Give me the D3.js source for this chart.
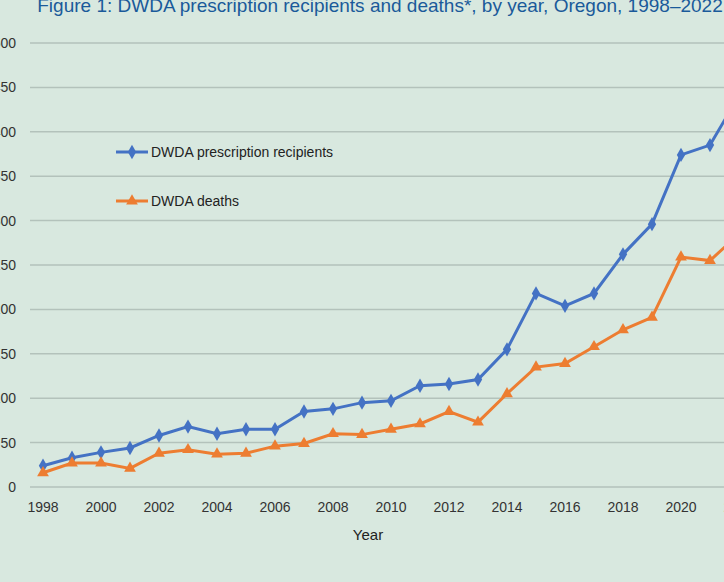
<!DOCTYPE html>
<html><head><meta charset="utf-8">
<script src="https://cdn.jsdelivr.net/npm/d3@7"></script>
<style>body{margin:0;background:#d8e8df;overflow:hidden}svg{display:block;font-family:"Liberation Sans Narrow","Liberation Sans",Arial,sans-serif}</style>
</head><body><div id="body"></div>
<script>
const years = d3.range(1998, 2023);
const recipients = [24,33,39,44,58,68,60,65,65,85,88,95,97,114,116,121,155,218,204,218,262,296,374,385,441];
const deaths = [16,27,27,21,38,42,37,38,46,49,60,59,65,71,85,73,105,135,139,158,177,191,259,255,285];
const yTicks = [0,50,100,150,200,250,300,350,400,450,500];
const xTicks = d3.range(1998, 2023, 2);

const svg = d3.select("#body").append("svg").attr("width",724).attr("height",582);
svg.append("rect").attr("width",724).attr("height",582).attr("fill","#d8e8df");

const x = d3.scaleLinear().domain([1998,2022]).range([43,739]);
const y = d3.scaleLinear().domain([0,500]).range([487,43]);

svg.append("text").attr("x",380).attr("y",12).attr("text-anchor","middle")
  .attr("fill","#1a5a9a").attr("font-size",19)
  .text("Figure 1: DWDA prescription recipients and deaths*, by year, Oregon, 1998\u20132022");

//网格线
svg.selectAll(".grid").data(yTicks).join("line")
  .attr("x1",30).attr("x2",724).attr("y1",d=>y(d)).attr("y2",d=>y(d))
  .attr("stroke","#b3c2bb").attr("stroke-width",1.5);
svg.selectAll(".yl").data(yTicks).join("text")
  .attr("x",16).attr("y",d=>y(d)+5).attr("text-anchor","end")
  .attr("font-size",14).attr("fill","#333").text(d=>d);
svg.selectAll(".xl").data(xTicks).join("text")
  .attr("x",d=>x(d)).attr("y",512).attr("text-anchor","middle")
  .attr("font-size",14).attr("fill","#333").text(d=>d);
svg.append("text").attr("x",368).attr("y",540).attr("text-anchor","middle")
  .attr("font-size",15).attr("fill","#222").text("Year");

const line = d3.line().x((d,i)=>x(years[i])).y(d=>y(d));
const blue = "#4472c4", orange = "#ed7d31";
svg.append("path").datum(recipients).attr("d",line).attr("fill","none").attr("stroke",blue).attr("stroke-width",3);
svg.append("path").datum(deaths).attr("d",line).attr("fill","none").attr("stroke",orange).attr("stroke-width",3);
const diamond = d3.symbol().type(d3.symbolDiamond).size(60);
const tri = d3.symbol().type(d3.symbolTriangle).size(60);
svg.selectAll(".dm").data(recipients).join("path").attr("d",diamond)
  .attr("transform",(d,i)=>`translate(${x(years[i])},${y(d)})`).attr("fill",blue);
svg.selectAll(".tr").data(deaths).join("path").attr("d",tri)
  .attr("transform",(d,i)=>`translate(${x(years[i])},${y(d)})`).attr("fill",orange);

//图例
const legend = [["DWDA prescription recipients",blue,diamond,152],["DWDA deaths",orange,tri,201]];
legend.forEach(([t,c,s,ly])=>{
  svg.append("line").attr("x1",116).attr("x2",148).attr("y1",ly).attr("y2",ly).attr("stroke",c).attr("stroke-width",3);
  svg.append("path").attr("d",s).attr("transform",`translate(132,${ly})`).attr("fill",c);
  svg.append("text").attr("x",151).attr("y",ly+5).attr("font-size",14).attr("fill","#222").text(t);
});
</script></body></html>
